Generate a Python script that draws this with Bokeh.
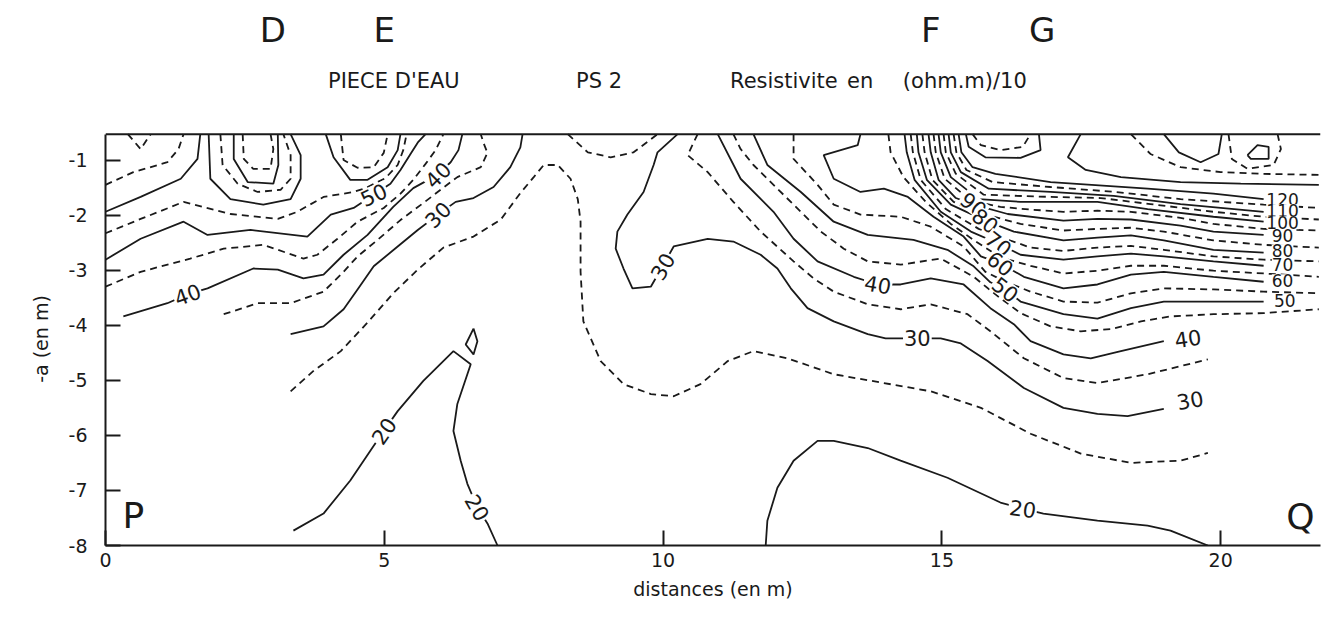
import math
from bokeh.plotting import figure
from bokeh.layouts import column
from bokeh.models import Range1d, FixedTicker, LinearAxis, Label, ColumnDataSource, Span
from bokeh.embed import file_html
from bokeh.resources import INLINE
from bokeh.core.properties import value

# ---------------- data: iso-resistivity lines, x = distance (m), y = -depth (m) ----------------
# left part
c65a_x = [0, 0.50, 1.11, 1.31, 1.40]
c65a_y = [-1.45, -1.22, -1.04, -0.80, -0.53]
c65b_x = [0.40, 0.63, 0.81]
c65b_y = [-0.53, -0.80, -0.53]
c60a_x = [0, 0.63, 1.35, 1.65, 1.70]
c60a_y = [-1.94, -1.67, -1.34, -0.98, -0.53]
c60b_x = [1.85, 1.88, 2.24, 2.83, 3.32, 3.50, 3.50, 3.32]
c60b_y = [-0.53, -1.34, -1.71, -1.81, -1.71, -1.34, -0.91, -0.53]
c65c_x = [2.06, 2.10, 2.37, 2.73, 3.14, 3.32, 3.32, 3.19]
c65c_y = [-0.53, -1.09, -1.43, -1.58, -1.54, -1.34, -0.91, -0.53]
c70a_x = [2.30, 2.30, 2.55, 3.01, 3.10, 3.09]
c70a_y = [-0.53, -0.98, -1.40, -1.43, -1.09, -0.53]
c75a_x = [2.46, 2.48, 2.65, 2.96, 3.01, 2.96]
c75a_y = [-0.53, -0.98, -1.16, -1.16, -0.80, -0.53]
c60c_x = [3.95, 4.09, 4.39, 4.70, 5.06, 5.24, 5.29]
c60c_y = [-0.53, -0.95, -1.36, -1.36, -1.13, -0.82, -0.53]
c65d_x = [4.22, 4.27, 4.52, 4.81, 4.99, 5.06]
c65d_y = [-0.53, -1.00, -1.14, -1.13, -0.87, -0.53]
c55a_x = [0, 0.63, 1.40, 2.24, 3.09, 3.44, 3.91, 4.45, 4.66, 5.02, 5.24, 5.34, 5.40]
c55a_y = [-2.33, -2.07, -1.76, -1.98, -2.07, -1.94, -1.67, -1.58, -1.51, -1.33, -1.09, -0.82, -0.53]
c50a_x = [0, 0.63, 1.40, 1.83, 2.60, 3.62, 4.04, 4.45, 4.81, 5.11, 5.29, 5.47, 5.61, 5.74]
c50a_y = [-2.81, -2.43, -2.12, -2.36, -2.27, -2.39, -1.99, -1.87, -1.63, -1.43, -1.18, -0.89, -0.67, -0.53]
c45a_x = [0, 0.63, 1.52, 2.12, 2.83, 3.55, 3.80, 4.16, 4.52, 4.99, 5.29, 5.52, 5.74, 5.92, 6.06]
c45a_y = [-3.30, -3.03, -2.79, -2.61, -2.54, -2.79, -2.72, -2.43, -2.12, -1.87, -1.61, -1.36, -1.07, -0.82, -0.53]
c40a_x = [0.32, 1.11, 1.47, 1.83, 2.65, 3.09, 3.55, 3.91, 4.27, 4.70, 5.16, 5.52, 5.95, 6.19, 6.33, 6.40]
c40a_y = [-3.84, -3.60, -3.44, -3.33, -2.97, -2.99, -3.15, -3.08, -2.72, -2.36, -1.85, -1.51, -1.27, -1.04, -0.82, -0.53]
c35a_x = [2.12, 2.73, 3.32, 3.91, 4.27, 4.52, 4.88, 5.29, 5.70, 6.01, 6.31, 6.73, 6.85, 6.78, 6.73]
c35a_y = [-3.80, -3.60, -3.60, -3.39, -3.03, -2.75, -2.45, -2.09, -1.78, -1.54, -1.31, -1.13, -0.87, -0.69, -0.53]
c30a_x = [3.32, 3.91, 4.27, 4.52, 4.81, 5.24, 5.60, 5.95, 6.28, 6.60, 6.96, 7.26, 7.44, 7.48]
c30a_y = [-4.16, -4.02, -3.71, -3.35, -2.93, -2.57, -2.27, -2.00, -1.76, -1.69, -1.49, -1.13, -0.77, -0.53]
c25a_x = [3.32, 3.73, 4.22, 4.70, 5.17, 5.60, 6.06, 6.60, 7.09, 7.44, 7.68, 7.86, 8.11, 8.34, 8.47,
          8.52, 8.52, 8.57, 8.88, 9.29, 9.78, 10.19, 10.67, 11.16, 11.62, 12.23, 13.06, 13.96, 14.80,
          15.70, 16.59, 17.49, 18.39, 19.28, 19.77]
c25a_y = [-5.20, -4.83, -4.47, -3.95, -3.41, -2.99, -2.59, -2.39, -2.08, -1.60, -1.31, -1.09, -1.09, -1.34, -1.71,
          -2.12, -3.03, -3.93, -4.65, -5.07, -5.25, -5.29, -5.07, -4.65, -4.47, -4.60, -4.89, -5.05, -5.20,
          -5.50, -5.97, -6.33, -6.50, -6.46, -6.32]
c25b_x = [8.29, 8.65, 9.06, 9.47, 9.72, 9.90]
c25b_y = [-0.53, -0.86, -0.95, -0.86, -0.67, -0.53]
c20a_x = [3.37, 3.91, 4.39, 4.75, 4.99, 5.24, 5.70, 6.24, 6.55, 6.31, 6.24, 6.37, 6.49, 6.67, 6.85, 7.03]
c20a_y = [-7.73, -7.42, -6.82, -6.28, -5.92, -5.56, -5.01, -4.47, -4.71, -5.43, -5.92, -6.46, -6.88, -7.31, -7.60, -8.0]
c20b_x = [6.60, 6.67, 6.60, 6.46, 6.60]
c20b_y = [-4.06, -4.29, -4.53, -4.35, -4.06]
# middle / right part
c30b_x = [10.26, 9.90, 9.83, 9.65, 9.36, 9.18, 9.15, 9.29, 9.45, 9.78, 9.99, 10.19, 10.80, 11.26, 11.75,
          12.05, 12.29, 12.59, 13.06, 13.67, 13.99, 14.56, 14.98, 15.34, 15.82, 16.47, 17.18, 17.79, 18.33, 18.98]
c30b_y = [-0.53, -0.86, -1.09, -1.58, -1.99, -2.30, -2.61, -2.97, -3.33, -3.30, -2.93, -2.57, -2.43, -2.48, -2.72,
          -2.97, -3.33, -3.69, -3.93, -4.16, -4.24, -4.24, -4.24, -4.33, -4.65, -5.14, -5.50, -5.61, -5.65, -5.52]
c35b_x = [10.62, 10.44, 10.80, 11.26, 11.75, 12.34, 12.70, 13.06, 13.67, 14.26, 14.80, 15.46, 15.87, 16.47,
          17.18, 17.79, 18.69, 19.77]
c35b_y = [-0.53, -0.91, -1.22, -1.76, -2.30, -2.84, -3.15, -3.39, -3.62, -3.71, -3.62, -3.80, -4.11, -4.60,
          -4.96, -5.05, -4.89, -4.62]
c40b_x = [10.98, 11.39, 11.98, 12.34, 12.77, 13.42, 13.85, 14.26, 14.80, 15.39, 15.87, 16.29, 16.59, 17.18,
          17.67, 18.21, 18.98]
c40b_y = [-0.53, -1.34, -1.94, -2.43, -2.84, -3.12, -3.26, -3.26, -3.15, -3.26, -3.69, -3.98, -4.29, -4.53,
          -4.60, -4.47, -4.29]
c45b_x = [11.26, 11.39, 11.62, 12.05, 12.47, 12.83, 13.24, 13.67, 14.26, 14.98, 15.57, 15.96, 16.41, 16.95,
          17.49, 18.03, 18.57, 19.10, 19.87, 20.77, 21.76]
c45b_y = [-0.53, -0.80, -1.09, -1.52, -1.94, -2.30, -2.61, -2.84, -2.90, -2.79, -3.12, -3.44, -3.78, -4.02,
          -4.11, -4.07, -3.93, -3.84, -3.80, -3.78, -3.71]
c50b_x = [11.62, 11.87, 12.47, 13.06, 13.67, 14.49, 15.10, 15.57, 15.87, 16.14, 16.41, 17.18, 17.79, 18.39,
          18.98, 19.87, 20.77]
c50b_y = [-0.53, -1.09, -1.58, -2.12, -2.36, -2.45, -2.63, -2.93, -3.22, -3.35, -3.57, -3.80, -3.88, -3.69,
          -3.57, -3.57, -3.57]
c55b_x = [12.34, 12.34, 12.77, 13.06, 13.54, 14.26, 14.80, 15.39, 15.78, 16.14, 16.59, 17.18, 17.79, 18.39,
          18.98, 19.87, 20.77, 21.76]
c55b_y = [-0.53, -0.98, -1.45, -1.81, -1.99, -2.03, -2.21, -2.57, -3.03, -3.21, -3.39, -3.57, -3.59, -3.42,
          -3.33, -3.35, -3.39, -3.42]
c60d_x = [13.54, 13.49, 12.88, 13.06, 13.54, 13.96, 14.39, 14.85, 15.39, 15.70, 16.05, 16.47, 17.18, 17.79,
          18.39, 18.98, 19.87, 20.77]
c60d_y = [-0.53, -0.73, -0.91, -1.34, -1.58, -1.52, -1.67, -2.03, -2.39, -2.75, -2.88, -3.12, -3.33, -3.26,
          -3.08, -3.03, -3.12, -3.21]
c65e_x = [14.04, 14.08, 14.31, 14.71, 15.16, 15.61, 16.05, 16.59, 17.18, 17.79, 18.39, 18.98, 19.87, 20.77, 21.76]
c65e_y = [-0.53, -0.86, -1.31, -1.76, -2.16, -2.48, -2.77, -2.92, -3.06, -3.01, -2.92, -2.92, -3.01, -3.06, -3.12]
c70b_x = [14.33, 14.37, 14.51, 14.98, 15.52, 16.02, 16.41, 17.18, 17.79, 18.39, 18.98, 19.87, 20.77]
c70b_y = [-0.53, -0.86, -1.36, -1.94, -2.30, -2.52, -2.72, -2.81, -2.75, -2.70, -2.75, -2.84, -2.92]
c75b_x = [14.44, 14.48, 14.62, 15.07, 15.66, 16.14, 16.59, 17.18, 17.79, 18.39, 18.98, 19.87, 20.77, 21.76]
c75b_y = [-0.53, -0.86, -1.36, -1.89, -2.25, -2.43, -2.59, -2.65, -2.59, -2.56, -2.63, -2.75, -2.81, -2.84]
c80_x = [14.55, 14.58, 14.73, 15.16, 15.78, 16.29, 17.18, 17.79, 18.39, 18.98, 19.87, 20.77]
c80_y = [-0.53, -0.86, -1.36, -1.81, -2.10, -2.30, -2.46, -2.41, -2.37, -2.46, -2.63, -2.68]
c85_x = [14.65, 14.69, 14.83, 15.21, 15.78, 16.41, 17.18, 17.79, 18.39, 18.98, 19.87, 20.77, 21.76]
c85_y = [-0.53, -0.86, -1.36, -1.76, -1.99, -2.16, -2.28, -2.25, -2.23, -2.30, -2.46, -2.54, -2.59]
c90_x = [14.76, 14.80, 14.94, 15.25, 15.57, 16.18, 17.18, 17.79, 18.39, 19.28, 19.87, 20.77]
c90_y = [-0.53, -0.86, -1.36, -1.69, -1.81, -1.98, -2.10, -2.07, -2.08, -2.19, -2.30, -2.36]
c95_x = [14.85, 14.89, 15.05, 15.52, 16.05, 16.59, 17.18, 17.79, 18.39, 19.28, 19.87, 20.77, 21.76]
c95_y = [-0.53, -0.86, -1.34, -1.74, -1.85, -1.90, -1.94, -1.92, -1.94, -2.05, -2.16, -2.25, -2.28]
c100_x = [14.94, 14.98, 15.16, 15.66, 16.41, 17.18, 17.79, 18.69, 19.87, 20.77]
c100_y = [-0.53, -0.86, -1.31, -1.71, -1.76, -1.76, -1.76, -1.89, -2.03, -2.12]
c105_x = [15.03, 15.07, 15.25, 15.75, 16.95, 17.85, 18.74, 19.87, 20.77, 21.76]
c105_y = [-0.53, -0.86, -1.25, -1.63, -1.67, -1.69, -1.80, -1.94, -2.03, -2.08]
c110_x = [15.12, 15.16, 15.34, 15.84, 16.95, 18.08, 19.28, 20.77]
c110_y = [-0.53, -0.86, -1.22, -1.52, -1.58, -1.65, -1.80, -1.94]
c115_x = [15.21, 15.26, 15.44, 15.91, 16.95, 18.12, 19.28, 20.77, 21.76]
c115_y = [-0.53, -0.86, -1.18, -1.40, -1.49, -1.58, -1.71, -1.81, -1.87]
c120_x = [15.30, 15.35, 15.55, 15.96, 16.95, 18.69, 19.87, 20.77]
c120_y = [-0.53, -0.86, -1.13, -1.25, -1.40, -1.52, -1.61, -1.71]
cu1_x = [15.43, 15.48, 15.78, 16.41, 16.77, 16.74]
cu1_y = [-0.53, -0.76, -0.95, -0.96, -0.82, -0.53]
cu1d_x = [15.55, 15.70, 16.05, 16.45, 16.59]
cu1d_y = [-0.53, -0.73, -0.82, -0.76, -0.53]
ct1_x = [17.49, 17.26, 17.58, 18.21, 19.28, 20.36, 21.76]
ct1_y = [-0.53, -0.95, -1.18, -1.31, -1.40, -1.43, -1.45]
ct2_x = [18.39, 18.74, 19.28, 20.00, 20.72, 21.76]
ct2_y = [-0.53, -0.89, -1.13, -1.22, -1.25, -1.27]
ct3_x = [18.98, 19.25, 19.64, 19.96, 20.02]
ct3_y = [-0.53, -0.86, -1.04, -0.89, -0.53]
cl_x = [20.48, 20.66, 20.86, 20.86, 20.54, 20.48]
cl_y = [-0.91, -0.73, -0.76, -0.98, -0.98, -0.91]
cld_x = [20.14, 20.20, 20.48, 20.95, 21.08, 21.02]
cld_y = [-0.53, -0.98, -1.16, -1.09, -0.80, -0.53]
c20c_x = [11.84, 11.87, 12.05, 12.34, 12.77, 13.06, 13.67, 14.26, 15.10, 16.05, 16.45, 16.82, 17.79, 18.69, 19.10, 19.77]
c20c_y = [-8.0, -7.55, -6.95, -6.46, -6.10, -6.10, -6.23, -6.46, -6.77, -7.22, -7.33, -7.42, -7.55, -7.64, -7.73, -8.0]

solid_lines = [
    (c60a_x, c60a_y), (c60b_x, c60b_y), (c70a_x, c70a_y), (c60c_x, c60c_y), (c50a_x, c50a_y),
    (c40a_x, c40a_y), (c30a_x, c30a_y), (c20a_x, c20a_y), (c20b_x, c20b_y), (c30b_x, c30b_y),
    (c40b_x, c40b_y), (c50b_x, c50b_y), (c60d_x, c60d_y), (c70b_x, c70b_y), (c80_x, c80_y),
    (c90_x, c90_y), (c100_x, c100_y), (c110_x, c110_y), (c120_x, c120_y), (cu1_x, cu1_y),
    (ct1_x, ct1_y), (ct3_x, ct3_y), (cl_x, cl_y), (c20c_x, c20c_y),
]
dashed_lines = [
    (c65a_x, c65a_y), (c65b_x, c65b_y), (c65c_x, c65c_y), (c75a_x, c75a_y), (c65d_x, c65d_y),
    (c55a_x, c55a_y), (c45a_x, c45a_y), (c35a_x, c35a_y), (c25a_x, c25a_y), (c25b_x, c25b_y),
    (c35b_x, c35b_y), (c45b_x, c45b_y), (c55b_x, c55b_y), (c65e_x, c65e_y), (c75b_x, c75b_y),
    (c85_x, c85_y), (c95_x, c95_y), (c105_x, c105_y), (c115_x, c115_y), (cu1d_x, cu1d_y),
    (ct2_x, ct2_y), (cld_x, cld_y),
]

# contour labels
lab_x = [4.81, 1.47, 5.96, 5.96, 9.99, 13.85, 14.56, 19.41, 19.45, 4.99, 6.67, 16.45,
         15.57, 15.78, 16.02, 16.05, 16.14]
lab_y = [-1.63, -3.44, -1.27, -1.99, -2.93, -3.26, -4.24, -4.24, -5.36, -5.92, -7.31, -7.33,
         -1.81, -2.10, -2.52, -2.88, -3.35]
lab_text = ["50", "40", "40", "30", "30", "40", "30", "40", "30", "20", "20", "20",
            "90", "80", "70", "60", "50"]
lab_angle = [25, 20, 45, 45, 60, -10, 0, 8, 10, 55, -60, -8,
             -38, -38, -38, -38, -38]
rlab_x = [21.11, 21.11, 21.11, 21.11, 21.11, 21.11, 21.11, 21.15]
rlab_y = [-1.71, -1.92, -2.14, -2.37, -2.65, -2.90, -3.19, -3.55]
rlab_text = ["120", "110", "100", "90", "80", "70", "60", "50"]

# header texts (x in metres along the profile)
mark_text = ["D", "E", "F", "G"]
mark_x = [3.0, 5.0, 14.8, 16.8]
title_text = ["PIECE D'EAU", "PS 2", "Resistivite", "en", "(ohm.m)/10"]
title_x = [3.99, 8.44, 11.2, 13.3, 14.3]

x_ticks = [0, 5, 10, 15, 20]
y_ticks = [-1, -2, -3, -4, -5, -6, -7, -8]

FONT = "DejaVu Sans"
INK = "#1a1a1a"
W = 1322
XR = Range1d(0, 21.79)

# ---------------- header strip (letters + title) ----------------
hdr = figure(width=W, height=128, output_backend="svg", toolbar_location=None,
             x_range=XR, y_range=Range1d(0, 1),
             min_border_left=105, min_border_right=2, min_border_top=0, min_border_bottom=0,
             x_axis_location=None, y_axis_location=None)
hdr.outline_line_color = None
hdr.xgrid.visible = False
hdr.ygrid.visible = False
hdr.text(x=mark_x, y=[0.766] * len(mark_x), text=mark_text, text_align="center",
         text_baseline="middle", text_font=value(FONT), text_font_size="34px", text_color=INK)
hdr.text(x=title_x, y=[0.375] * len(title_x), text=title_text, text_align="left",
         text_baseline="middle", text_font=value(FONT), text_font_size="21px", text_color=INK)

# ---------------- main panel ----------------
p = figure(width=W, height=487, output_backend="svg", toolbar_location=None,
           x_range=XR, y_range=Range1d(-8.0, -0.50),
           min_border_left=105, min_border_top=4, min_border_bottom=70, min_border_right=2,
           x_axis_location=None, y_axis_location=None)
p.outline_line_color = None
p.xgrid.visible = False
p.ygrid.visible = False

xa = LinearAxis(ticker=FixedTicker(ticks=x_ticks))
xa.major_tick_in = 15
xa.major_tick_out = 0
xa.minor_tick_line_color = None
xa.axis_line_width = 2
xa.major_tick_line_width = 2
xa.axis_line_color = INK
xa.major_tick_line_color = INK
xa.major_label_text_font = FONT
xa.major_label_text_font_size = "19px"
xa.major_label_text_color = INK
xa.major_label_standoff = 7
xa.axis_label = "distances (en m)"
xa.axis_label_text_font = FONT
xa.axis_label_text_font_size = "19px"
xa.axis_label_text_font_style = "normal"
xa.axis_label_text_color = INK
xa.axis_label_standoff = 8
p.add_layout(xa, "below")

ya = LinearAxis(ticker=FixedTicker(ticks=y_ticks))
ya.bounds = (-8.0, -0.53)
ya.major_tick_in = 15
ya.major_tick_out = 0
ya.minor_tick_line_color = None
ya.axis_line_width = 2
ya.major_tick_line_width = 2
ya.axis_line_color = INK
ya.major_tick_line_color = INK
ya.major_label_text_font = FONT
ya.major_label_text_font_size = "19px"
ya.major_label_text_color = INK
ya.major_label_standoff = 18
ya.major_label_overrides = {t: "-%d" % abs(t) for t in y_ticks}
ya.axis_label = "-a (en m)"
ya.axis_label_text_font = FONT
ya.axis_label_text_font_size = "19px"
ya.axis_label_text_font_style = "normal"
ya.axis_label_text_color = INK
ya.axis_label_standoff = 14
p.add_layout(ya, "left")

# top edge of the section
p.add_layout(Span(location=-0.53, dimension="width", line_color=INK, line_width=2))

p.multi_line(xs=[l[0] for l in solid_lines], ys=[l[1] for l in solid_lines],
             line_color=INK, line_width=1.8)
p.multi_line(xs=[l[0] for l in dashed_lines], ys=[l[1] for l in dashed_lines],
             line_color=INK, line_width=1.8, line_dash="7 5")

src = ColumnDataSource(dict(x=lab_x, y=lab_y, text=lab_text,
                            angle=[math.radians(a) for a in lab_angle]))
p.text(x="x", y="y", text="text", angle="angle", source=src, text_align="center",
       text_baseline="middle", text_font=value(FONT), text_font_size="21px", text_color=INK,
       background_fill_color="white", padding=1)
rsrc = ColumnDataSource(dict(x=rlab_x, y=rlab_y, text=rlab_text))
p.text(x="x", y="y", text="text", source=rsrc, text_align="center", text_baseline="middle",
       text_font=value(FONT), text_font_size="17px", text_color=INK,
       background_fill_color="white", padding=0)

p.add_layout(Label(x=0.5, y=-7.45, text="P", text_font=FONT, text_font_size="36px",
                   text_color=INK, text_align="center", text_baseline="middle"))
p.add_layout(Label(x=21.43, y=-7.47, text="Q", text_font=FONT, text_font_size="36px",
                   text_color=INK, text_align="center", text_baseline="middle"))

open("out.html", "w").write(file_html(column(hdr, p, spacing=0), INLINE))
